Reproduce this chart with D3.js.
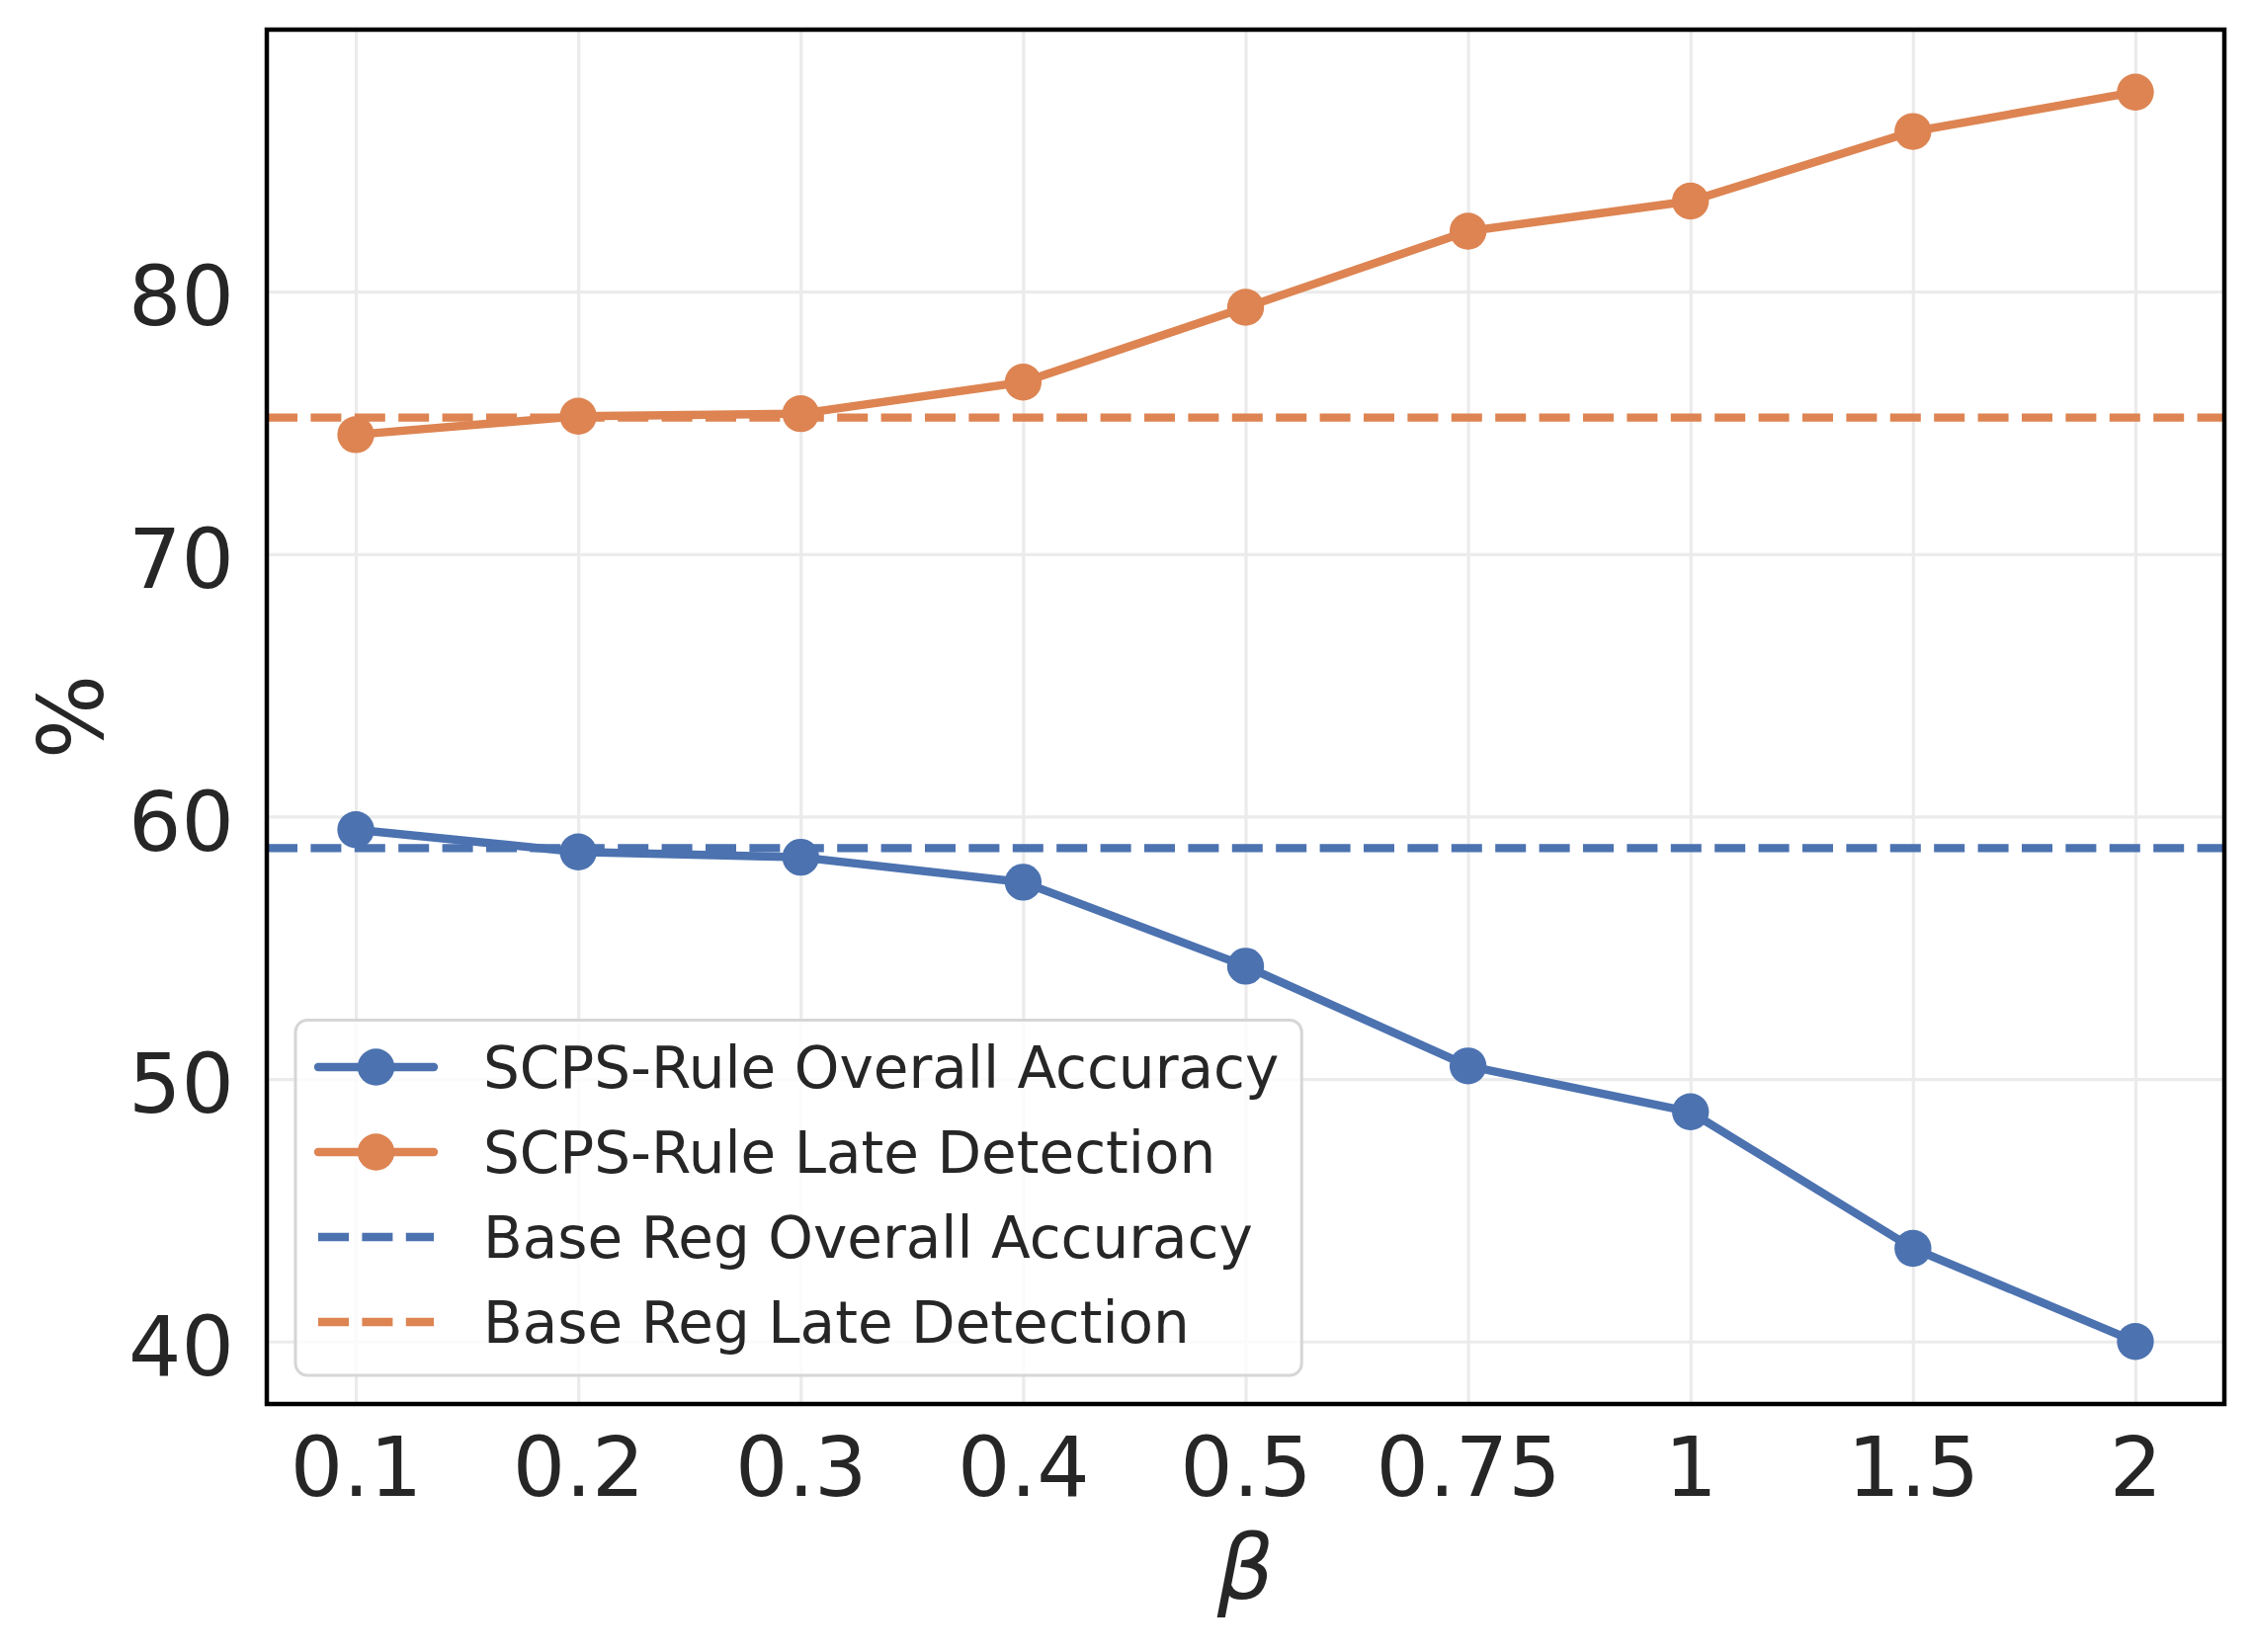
<!DOCTYPE html>
<html>
<head>
<meta charset="utf-8">
<script src="https://cdn.jsdelivr.net/npm/d3@7"></script>
<style>
  body { margin: 0; background: #fff; }
  text { font-family: "DejaVu Sans", sans-serif; fill: #262626; }
</style>
</head>
<body>
<div id="chart"></div>
<script>
// data
var betaLabels = ["0.1", "0.2", "0.3", "0.4", "0.5", "0.75", "1", "1.5", "2"];
var overallAcc = [59.5, 58.65, 58.45, 57.5, 54.3, 50.5, 48.75, 43.55, 40.0];
var lateDetect = [74.55, 75.25, 75.35, 76.55, 79.4, 82.3, 83.45, 86.1, 87.6];
var baseOverall = 58.8;
var baseLate = 75.2;
var yTicks = [40, 50, 60, 70, 80];

var seriesNames = [
  "SCPS-Rule Overall Accuracy",
  "SCPS-Rule Late Detection",
  "Base Reg Overall Accuracy",
  "Base Reg Late Detection"
];

var blue = "#4C72B0";
var orange = "#DD8452";

var svgWidth = 2281;
var svgHeight = 1672;

var margin = { top: 30, right: 30, bottom: 251, left: 270 };
var width = svgWidth - margin.left - margin.right;
var height = svgHeight - margin.top - margin.bottom;

var lineW = 8.4;
var markerR = 18.7;
var dash = "31,13.4";

var svg = d3.select("#chart")
  .append("svg")
  .attr("width", svgWidth)
  .attr("height", svgHeight);

var chartGroup = svg.append("g")
  .attr("transform", `translate(${margin.left}, ${margin.top})`);

// x: categorical positions, 5% margins like matplotlib
var xScale = d3.scalePoint()
  .domain(betaLabels)
  .range([0, width])
  .padding(0.4);

// y: data range plus 5% margins
var yMin = d3.min(overallAcc.concat(lateDetect));
var yMax = d3.max(overallAcc.concat(lateDetect));
var yPad = (yMax - yMin) * 0.05;
var yScale = d3.scaleLinear()
  .domain([yMin - yPad, yMax + yPad])
  .range([height, 0]);

// grid
chartGroup.append("g")
  .attr("class", "grid")
  .call(d3.axisLeft(yScale).tickValues(yTicks).tickSize(-width).tickFormat(""))
  .call(g => g.select(".domain").remove())
  .call(g => g.selectAll("line").attr("stroke", "#ebebeb").attr("stroke-width", 3.2));

chartGroup.append("g")
  .attr("class", "grid")
  .attr("transform", `translate(0, ${height})`)
  .call(d3.axisBottom(xScale).tickSize(-height).tickFormat(""))
  .call(g => g.select(".domain").remove())
  .call(g => g.selectAll("line").attr("stroke", "#ebebeb").attr("stroke-width", 3.2));

var clip = svg.append("clipPath").attr("id", "plotclip")
  .append("rect").attr("width", width).attr("height", height);

var plotArea = chartGroup.append("g").attr("clip-path", "url(#plotclip)");

var line = d3.line()
  .x((d, i) => xScale(betaLabels[i]))
  .y(d => yScale(d));

function drawSeries(values, color) {
  plotArea.append("path")
    .datum(values)
    .attr("fill", "none")
    .attr("stroke", color)
    .attr("stroke-width", lineW)
    .attr("stroke-linejoin", "round")
    .attr("stroke-linecap", "round")
    .attr("d", line);

  plotArea.append("g")
    .selectAll("circle")
    .data(values)
    .enter()
    .append("circle")
    .attr("cx", (d, i) => xScale(betaLabels[i]))
    .attr("cy", d => yScale(d))
    .attr("r", markerR)
    .attr("fill", color);
}

drawSeries(overallAcc, blue);
drawSeries(lateDetect, orange);

// baselines
[[baseOverall, blue], [baseLate, orange]].forEach(function(b) {
  plotArea.append("line")
    .attr("x1", 0)
    .attr("x2", width)
    .attr("y1", yScale(b[0]))
    .attr("y2", yScale(b[0]))
    .attr("stroke", b[1])
    .attr("stroke-width", lineW)
    .attr("stroke-dasharray", dash);
});

// axes
var leftAxis = chartGroup.append("g")
  .call(d3.axisLeft(yScale).tickValues(yTicks).tickSize(0).tickPadding(33));
leftAxis.select(".domain").remove();
leftAxis.selectAll("text")
  .attr("dy", "0.4em")
  .style("font-size", "84px")
  .style("fill", "#262626");

var bottomAxis = chartGroup.append("g")
  .attr("transform", `translate(0, ${height})`)
  .call(d3.axisBottom(xScale).tickSize(0).tickPadding(33));
bottomAxis.select(".domain").remove();
bottomAxis.selectAll("text")
  .style("font-size", "84px")
  .style("fill", "#262626");

// frame
chartGroup.append("rect")
  .attr("width", width)
  .attr("height", height)
  .attr("fill", "none")
  .attr("stroke", "#000")
  .attr("stroke-width", 4.5);

// axis labels
chartGroup.append("text")
  .attr("transform", "rotate(-90)")
  .attr("x", -height / 2)
  .attr("y", -166)
  .attr("text-anchor", "middle")
  .style("font-size", "90px")
  .text("%");

chartGroup.append("text")
  .attr("x", width / 2)
  .attr("y", height + 197)
  .attr("text-anchor", "middle")
  .style("font-size", "90px")
  .style("font-style", "italic")
  .text("β");

// legend (lower left)
var legFont = 58;
var rowGap = 86;
var legLeft = 29;
var legBottom = height - 29;
var rows = seriesNames.length;
var firstRow = legBottom - 54 - rowGap * (rows - 1);
var legTop = firstRow - 47.5;

var legend = chartGroup.append("g").attr("class", "legend");
var legBox = legend.append("rect")
  .attr("x", legLeft)
  .attr("y", legTop)
  .attr("height", legBottom - legTop)
  .attr("rx", 12)
  .attr("fill", "#fff")
  .attr("fill-opacity", 0.8)
  .attr("stroke", "#d6d6d6")
  .attr("stroke-width", 3);

var legendStyles = [
  { color: blue, dashed: false },
  { color: orange, dashed: false },
  { color: blue, dashed: true },
  { color: orange, dashed: true }
];

var maxText = 0;
seriesNames.forEach(function(name, i) {
  var cy = firstRow + i * rowGap;
  var st = legendStyles[i];
  var x0 = legLeft + 23;
  var x1 = x0 + 117;
  var item = legend.append("g");
  if (st.dashed) {
    item.append("line")
      .attr("x1", x0).attr("x2", x1)
      .attr("y1", cy).attr("y2", cy)
      .attr("stroke", st.color)
      .attr("stroke-width", lineW)
      .attr("stroke-dasharray", dash);
  } else {
    item.append("line")
      .attr("x1", x0).attr("x2", x1)
      .attr("y1", cy).attr("y2", cy)
      .attr("stroke", st.color)
      .attr("stroke-width", lineW)
      .attr("stroke-linecap", "round");
    item.append("circle")
      .attr("cx", (x0 + x1) / 2)
      .attr("cy", cy)
      .attr("r", markerR)
      .attr("fill", st.color);
  }
  var t = item.append("text")
    .attr("x", legLeft + 190)
    .attr("y", cy)
    .attr("dy", "0.36em")
    .style("font-size", legFont + "px")
    .text(name);
  maxText = Math.max(maxText, t.node().getComputedTextLength());
});

legBox.attr("width", 190 + maxText + 23);
</script>
</body>
</html>
